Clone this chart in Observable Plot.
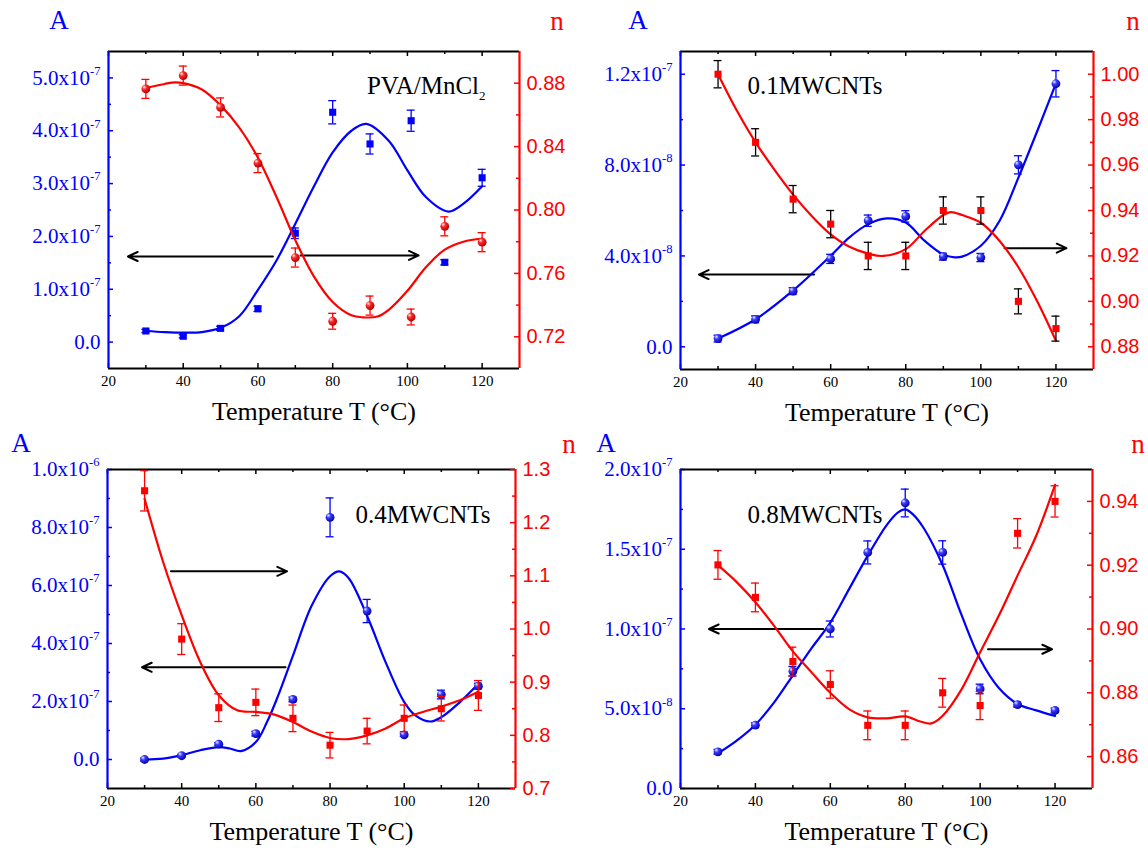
<!DOCTYPE html>
<html><head><meta charset="utf-8">
<script src="https://cdn.jsdelivr.net/npm/d3@7"></script>
<script src="https://cdn.jsdelivr.net/npm/@observablehq/plot@0.6"></script>
<style>
body{margin:0;background:#fff;}
#wrap{position:relative;width:1148px;height:856px;overflow:hidden;background:#fff;}
.panel{position:absolute;width:574px;height:428px;}
.panel svg{position:absolute;left:0;top:0;}
.lbl{position:absolute;font-family:"Liberation Serif","Times New Roman",serif;font-size:27px;line-height:1;transform:translate(-50%,-50%);white-space:nowrap;}
</style></head>
<body>
<svg width="0" height="0" style="position:absolute">
  <defs>
    <radialGradient id="ballBlue" cx="0.38" cy="0.36" r="0.66" fx="0.3" fy="0.28">
      <stop offset="0" stop-color="#eef0ff"/>
      <stop offset="0.38" stop-color="#3a3aff"/>
      <stop offset="1" stop-color="#0000a8"/>
    </radialGradient>
    <radialGradient id="ballRed" cx="0.38" cy="0.36" r="0.66" fx="0.3" fy="0.28">
      <stop offset="0" stop-color="#fff0f0"/>
      <stop offset="0.38" stop-color="#ff2a2a"/>
      <stop offset="1" stop-color="#b00000"/>
    </radialGradient>
  </defs>
</svg>
<div id="wrap"></div>
<script>
// ---------------- DATA ----------------
const xMajor = [20, 40, 60, 80, 100, 120];
const xMinor = [30, 50, 70, 90, 110];

// Panel 1: PVA/MnCl2
const p1T = [30, 40, 50, 60, 70, 80, 90, 101, 110, 120];
const p1A = [0.21e-7, 0.11e-7, 0.26e-7, 0.63e-7, 2.06e-7, 4.35e-7, 3.75e-7, 4.19e-7, 1.51e-7, 3.11e-7];
const p1Aerr = [0.03e-7, 0.03e-7, 0.04e-7, 0.05e-7, 0.10e-7, 0.22e-7, 0.19e-7, 0.20e-7, 0.05e-7, 0.16e-7];
const p1n = [0.8764, 0.8848, 0.8647, 0.8296, 0.7700, 0.7298, 0.7397, 0.7325, 0.7897, 0.7797];
const p1nerr = [0.006, 0.006, 0.006, 0.006, 0.006, 0.005, 0.006, 0.005, 0.006, 0.006];
const p1AfitT = [30, 35, 40, 45, 50, 55, 60, 65, 70, 75, 80, 85, 89, 95, 100, 105, 111, 115, 120];
const p1Afit = [0.21e-7, 0.19e-7, 0.18e-7, 0.19e-7, 0.27e-7, 0.49e-7, 0.99e-7, 1.55e-7, 2.24e-7, 2.95e-7, 3.59e-7, 4.0e-7, 4.13e-7, 3.81e-7, 3.25e-7, 2.74e-7, 2.47e-7, 2.62e-7, 2.95e-7];
const p1nfitT = [30, 35, 37, 40, 45, 50, 55, 60, 65, 70, 75, 80, 85, 88, 92, 95, 100, 105, 110, 115, 120];
const p1nfit = [0.877, 0.8795, 0.8804, 0.880, 0.876, 0.866, 0.852, 0.833, 0.808, 0.781, 0.758, 0.742, 0.7336, 0.7323, 0.7328, 0.737, 0.749, 0.764, 0.775, 0.780, 0.782];
const p1ArrowX1 = [64, 71.4], p1ArrowX2 = [25.2, 103], p1ArrowY = [1.62e-7, 1.64e-7];
const p1ATicks = [0, 1e-7, 2e-7, 3e-7, 4e-7, 5e-7];
const p1ATickLabels = ["0.0", "1.0x10^-7", "2.0x10^-7", "3.0x10^-7", "4.0x10^-7", "5.0x10^-7"];
const p1AMinor = [0.5e-7, 1.5e-7, 2.5e-7, 3.5e-7, 4.5e-7];
const p1nTicks = [0.72, 0.76, 0.80, 0.84, 0.88];
const p1nMinor = [0.74, 0.78, 0.82, 0.86];

// Panel 2: 0.1MWCNTs
const p2T = [30, 40, 50, 60, 70, 80, 90, 100, 110, 120];
const p2A = [0.36e-8, 1.21e-8, 2.45e-8, 3.87e-8, 5.55e-8, 5.74e-8, 3.97e-8, 3.93e-8, 8.01e-8, 11.58e-8];
const p2Aerr = [0.15e-8, 0.15e-8, 0.15e-8, 0.2e-8, 0.25e-8, 0.25e-8, 0.15e-8, 0.18e-8, 0.4e-8, 0.58e-8];
const p2n = [1.000, 0.970, 0.945, 0.934, 0.920, 0.920, 0.940, 0.940, 0.900, 0.888];
const p2nerr = [0.006, 0.006, 0.006, 0.006, 0.006, 0.006, 0.006, 0.006, 0.0055, 0.0055];
const p2AfitT = [30, 40, 50, 60, 65, 70, 75, 80, 85, 90, 93, 95, 100, 105, 110, 115, 120];
const p2Afit = [0.36e-8, 1.21e-8, 2.48e-8, 4.01e-8, 4.82e-8, 5.40e-8, 5.65e-8, 5.47e-8, 4.67e-8, 4.06e-8, 3.94e-8, 3.97e-8, 4.45e-8, 5.55e-8, 7.45e-8, 9.49e-8, 11.6e-8];
const p2nfitT = [30, 35, 40, 45, 50, 55, 60, 65, 70, 74, 80, 85, 90, 92, 95, 100, 105, 110, 115, 120];
const p2nfit = [1.000, 0.984, 0.970, 0.958, 0.947, 0.9375, 0.9295, 0.924, 0.921, 0.920, 0.923, 0.931, 0.938, 0.9393, 0.938, 0.9346, 0.9266, 0.915, 0.900, 0.8826];
const p2ArrowX1 = [55.6, 106.3], p2ArrowX2 = [24.9, 122.8], p2ArrowY = [3.18e-8, 4.34e-8];
const p2ATicks = [0, 4e-8, 8e-8, 1.2e-7];
const p2ATickLabels = ["0.0", "4.0x10^-8", "8.0x10^-8", "1.2x10^-7"];
const p2AMinor = [2e-8, 6e-8, 1e-7];
const p2nTicks = [0.88, 0.90, 0.92, 0.94, 0.96, 0.98, 1.00];
const p2nMinor = [0.89, 0.91, 0.93, 0.95, 0.97, 0.99];

// Panel 3: 0.4MWCNTs
const p3T = [30, 40, 50, 60, 70, 80, 90, 100, 110, 120];
const p3A = [0.0, 0.13e-7, 0.53e-7, 0.89e-7, 2.07e-7, 8.35e-7, 5.12e-7, 0.85e-7, 2.24e-7, 2.53e-7];
const p3Aerr = [0.05e-7, 0.05e-7, 0.05e-7, 0.08e-7, 0.08e-7, 0.67e-7, 0.40e-7, 0.05e-7, 0.15e-7, 0.10e-7];
const p3n = [1.260, 0.981, 0.852, 0.862, 0.832, 0.7815, 0.808, 0.832, 0.850, 0.875];
const p3nerr = [0.038, 0.029, 0.026, 0.025, 0.025, 0.024, 0.024, 0.025, 0.023, 0.028];
const p3AfitT = [30, 35, 40, 45, 50, 53, 56, 60, 63, 66, 70, 75, 80, 82.5, 85, 90, 95, 100, 103, 107, 110, 115, 120];
const p3Afit = [0.0, 0.03e-7, 0.15e-7, 0.32e-7, 0.43e-7, 0.38e-7, 0.29e-7, 0.6e-7, 1.29e-7, 2.2e-7, 3.58e-7, 5.29e-7, 6.32e-7, 6.49e-7, 6.26e-7, 4.95e-7, 3.35e-7, 1.98e-7, 1.52e-7, 1.31e-7, 1.46e-7, 1.98e-7, 2.61e-7];
const p3nfitT = [30, 35, 40, 45, 50, 55, 60, 65, 70, 75, 80, 85, 90, 95, 100, 105, 110, 115, 120];
const p3nfit = [1.245, 1.126, 1.026, 0.938, 0.8755, 0.847, 0.844, 0.839, 0.825, 0.807, 0.795, 0.793, 0.800, 0.813, 0.832, 0.844, 0.854, 0.866, 0.882];
const p3ArrowX1 = [37.1, 68], p3ArrowX2 = [68.4, 29.3], p3ArrowY = [6.49e-7, 3.18e-7];
const p3ATicks = [0, 2e-7, 4e-7, 6e-7, 8e-7, 1e-6];
const p3ATickLabels = ["0.0", "2.0x10^-7", "4.0x10^-7", "6.0x10^-7", "8.0x10^-7", "1.0x10^-6"];
const p3AMinor = [1e-7, 3e-7, 5e-7, 7e-7, 9e-7];
const p3nTicks = [0.7, 0.8, 0.9, 1.0, 1.1, 1.2, 1.3];
const p3nMinor = [0.75, 0.85, 0.95, 1.05, 1.15, 1.25];

// Panel 4: 0.8MWCNTs
const p4T = [30, 40, 50, 60, 70, 80, 90, 100, 110, 120];
const p4A = [0.23e-7, 0.397e-7, 0.735e-7, 1.0e-7, 1.48e-7, 1.79e-7, 1.48e-7, 0.624e-7, 0.526e-7, 0.489e-7];
const p4Aerr = [0.015e-7, 0.015e-7, 0.03e-7, 0.05e-7, 0.072e-7, 0.087e-7, 0.073e-7, 0.03e-7, 0.015e-7, 0.015e-7];
const p4n = [0.9201, 0.9099, 0.8898, 0.8826, 0.8698, 0.8698, 0.880, 0.876, 0.930, 0.940];
const p4nerr = [0.0045, 0.0045, 0.0045, 0.0043, 0.0045, 0.0045, 0.0045, 0.0044, 0.0046, 0.0049];
const p4AfitT = [30, 35, 40, 45, 50, 55, 60, 65, 70, 75, 78, 80, 82, 85, 90, 95, 100, 105, 110, 115, 120];
const p4Afit = [0.22e-7, 0.30e-7, 0.40e-7, 0.54e-7, 0.71e-7, 0.88e-7, 1.04e-7, 1.25e-7, 1.46e-7, 1.65e-7, 1.73e-7, 1.75e-7, 1.72e-7, 1.63e-7, 1.40e-7, 1.09e-7, 0.81e-7, 0.63e-7, 0.53e-7, 0.49e-7, 0.455e-7];
const p4nfitT = [30, 35, 40, 45, 50, 55, 60, 65, 70, 75, 80, 84, 87, 90, 95, 100, 105, 110, 115, 120];
const p4nfit = [0.920, 0.9147, 0.9084, 0.901, 0.893, 0.8864, 0.880, 0.8749, 0.8723, 0.872, 0.8726, 0.871, 0.8704, 0.8728, 0.881, 0.8927, 0.9042, 0.9168, 0.9293, 0.9452];
const p4ArrowX1 = [58.1, 102.1], p4ArrowX2 = [27.6, 119.2], p4ArrowY = [1.0e-7, 0.873e-7];
const p4ATicks = [0, 5e-8, 1e-7, 1.5e-7, 2e-7];
const p4ATickLabels = ["0.0", "5.0x10^-8", "1.0x10^-7", "1.5x10^-7", "2.0x10^-7"];
const p4AMinor = [2.5e-8, 7.5e-8, 1.25e-7, 1.75e-7];
const p4nTicks = [0.86, 0.88, 0.90, 0.92, 0.94];
const p4nMinor = [0.87, 0.89, 0.91, 0.93];

const xTitle = "Temperature T (°C)";

// ---------------- RENDER ----------------
const BLUE = "#0000ff", RED = "#ff0000";
const SERIF = '"Liberation Serif","Times New Roman",serif';
const SANS = '"Liberation Sans",Arial,sans-serif';

const zip = (T, v, e) => T.map((t, i) => ({t, v: v[i], e: e ? e[i] : 0}));
const arrows = (x1, x2, y) => x1.map((d, i) => ({x1: d, x2: x2[i], y: y[i]}));

const panels = [
  {left: 0, top: 0, mL: 108, mR: 55, mT: 51, mB: 60,
   aDomain: [-0.5e-7, 5.5e-7], aTicks: p1ATicks, aLabels: p1ATickLabels, aMinor: p1AMinor,
   nDomain: [0.70, 0.90], nTicks: p1nTicks, nMinor: p1nMinor, nDigits: 2,
   T: p1T, A: p1A, Ae: p1Aerr, n: p1n, ne: p1nerr,
   AfitT: p1AfitT, Afit: p1Afit, nfitT: p1nfitT, nfit: p1nfit,
   arrows: arrows(p1ArrowX1, p1ArrowX2, p1ArrowY),
   aShape: "square", nShape: "ball", aErr: BLUE, nErr: RED,
   label: "PVA/MnCl_2", labelAnchor: "top-right", labelDx: -34, labelDy: 25, labelAlign: "end",
   Apos: [59, 20], npos: [557, 21]},
  {left: 574, top: 0, mL: 106, mR: 55, mT: 51, mB: 59,
   aDomain: [-1e-8, 1.3e-7], aTicks: p2ATicks, aLabels: p2ATickLabels, aMinor: p2AMinor,
   nDomain: [0.87, 1.01], nTicks: p2nTicks, nMinor: p2nMinor, nDigits: 2,
   T: p2T, A: p2A, Ae: p2Aerr, n: p2n, ne: p2nerr,
   AfitT: p2AfitT, Afit: p2Afit, nfitT: p2nfitT, nfit: p2nfit,
   arrows: arrows(p2ArrowX1, p2ArrowX2, p2ArrowY),
   aShape: "ball", nShape: "square", aErr: BLUE, nErr: "black",
   label: "0.1MWCNTs", labelAnchor: "top-left", labelDx: 67, labelDy: 25, labelAlign: "start",
   Apos: [64, 20], npos: [559, 21]},
  {left: 0, top: 428, mL: 107, mR: 59, mT: 41, mB: 68,
   aDomain: [-1e-7, 1e-6], aTicks: p3ATicks, aLabels: p3ATickLabels, aMinor: p3AMinor,
   nDomain: [0.7, 1.3], nTicks: p3nTicks, nMinor: p3nMinor, nDigits: 1,
   T: p3T, A: p3A, Ae: p3Aerr, n: p3n, ne: p3nerr,
   AfitT: p3AfitT, Afit: p3Afit, nfitT: p3nfitT, nfit: p3nfit,
   arrows: arrows(p3ArrowX1, p3ArrowX2, p3ArrowY),
   aShape: "ball", nShape: "square", aErr: BLUE, nErr: RED,
   label: "0.4MWCNTs", labelAnchor: "top-left", labelDx: 248, labelDy: 36, labelAlign: "start",
   Apos: [21, 15], npos: [569, 16]},
  {left: 574, top: 428, mL: 106, mR: 56, mT: 41, mB: 68,
   aDomain: [0, 2e-7], aTicks: p4ATicks, aLabels: p4ATickLabels, aMinor: p4AMinor,
   nDomain: [0.85, 0.95], nTicks: p4nTicks, nMinor: p4nMinor, nDigits: 2,
   T: p4T, A: p4A, Ae: p4Aerr, n: p4n, ne: p4nerr,
   AfitT: p4AfitT, Afit: p4Afit, nfitT: p4nfitT, nfit: p4nfit,
   arrows: arrows(p4ArrowX1, p4ArrowX2, p4ArrowY),
   aShape: "ball", nShape: "square", aErr: BLUE, nErr: RED,
   label: "0.8MWCNTs", labelAnchor: "top-left", labelDx: 67, labelDy: 36, labelAlign: "start",
   Apos: [32, 15], npos: [564, 16]}
];

function setFont(svg, ariaLabel, size, family) {
  d3.select(svg).selectAll(`g[aria-label="${ariaLabel}"]`)
    .attr("font-size", size).attr("font-family", family)
    .selectAll("text").attr("font-size", size).attr("font-family", family);
}

function richText(svg) {
  d3.select(svg).selectAll("text").each(function () {
    const s = this.textContent;
    const m = s.match(/^(.*?)([\^_])(.+)$/);
    if (!m) return;
    const fs = parseFloat(this.getAttribute("font-size")) || parseFloat(getComputedStyle(this).fontSize) || 18;
    while (this.firstChild) this.removeChild(this.firstChild);
    const sel = d3.select(this);
    sel.append("tspan").text(m[1]);
    sel.append("tspan")
      .attr("dy", m[2] === "^" ? -0.47 * fs : 0.3 * fs)
      .attr("font-size", (m[2] === "^" ? 0.6 : 0.72) * fs)
      .text(m[3]);
  });
}

function seriesMarks(data, fitT, fit, shape, color, errColor) {
  const fitData = zip(fitT, fit);
  const marks = [
    Plot.line(fitData, {x: "t", y: "v", curve: "catmull-rom", stroke: color, strokeWidth: 2.2}),
    Plot.ruleX(data, {x: "t", y1: d => d.v - d.e, y2: d => d.v + d.e, stroke: errColor, strokeWidth: 1.3}),
    Plot.ruleY(data, {x1: "t", x2: "t", y: d => d.v - d.e, insetLeft: -4, insetRight: -4, stroke: errColor, strokeWidth: 1.3}),
    Plot.ruleY(data, {x1: "t", x2: "t", y: d => d.v + d.e, insetLeft: -4, insetRight: -4, stroke: errColor, strokeWidth: 1.3})
  ];
  if (shape === "square") {
    marks.push(Plot.dot(data, {x: "t", y: "v", symbol: "square", r: 4, fill: color, stroke: "none"}));
  } else {
    marks.push(Plot.dot(data, {x: "t", y: "v", r: 4.4, fill: color === BLUE ? "url(#ballBlue)" : "url(#ballRed)", stroke: "none"}));
  }
  return marks;
}

const wrap = document.getElementById("wrap");
for (const p of panels) {
  const W = 574, H = 428;
  const pw = W - p.mL - p.mR, ph = H - p.mT - p.mB;
  const aData = zip(p.T, p.A, p.Ae);
  const nData = zip(p.T, p.n, p.ne);
  const aLabel = new Map(p.aTicks.map((d, i) => [d, p.aLabels[i]]));

  const left = Plot.plot({
    width: W, height: H, marginLeft: p.mL, marginRight: p.mR, marginTop: p.mT, marginBottom: p.mB,
    style: {fontFamily: SERIF, background: "transparent", overflow: "visible"},
    x: {domain: [20, 130], axis: null, label: null},
    y: {domain: p.aDomain, axis: null, label: null},
    marks: [
      // x axis ticks (inward) and labels
      Plot.tickX(xMajor, {x: d => d, insetTop: ph - 5, stroke: "black", strokeWidth: 1.5}),
      Plot.tickX(xMinor, {x: d => d, insetTop: ph - 3, stroke: "black", strokeWidth: 1.5}),
      Plot.tickX(xMajor, {x: d => d, insetBottom: ph - 5, stroke: "black", strokeWidth: 1.5}),
      Plot.tickX(xMinor, {x: d => d, insetBottom: ph - 3, stroke: "black", strokeWidth: 1.5}),
      Plot.axisX({ticks: xMajor, label: null, tickSize: 0, tickPadding: 7, fontSize: 15, fontFamily: SERIF, fill: "black", tickFormat: d => String(d)}),
      Plot.text([xTitle], {frameAnchor: "bottom", dy: 51, fontSize: 26, fontFamily: SERIF, fill: "black"}),
      // left axis
      Plot.tickY(p.aTicks, {y: d => d, insetRight: pw - 5, stroke: BLUE, strokeWidth: 1.5}),
      Plot.tickY(p.aMinor, {y: d => d, insetRight: pw - 3, stroke: BLUE, strokeWidth: 1.5}),
      Plot.axisY({ticks: p.aTicks, label: null, tickSize: 0, tickPadding: 8, fontSize: 21, fontFamily: SERIF, fill: BLUE, tickFormat: d => aLabel.get(d)}),
      // frame
      Plot.ruleY([p.aDomain[1]], {stroke: "black", strokeWidth: 2}),
      Plot.ruleY([p.aDomain[0]], {stroke: "black", strokeWidth: 2}),
      Plot.ruleX([20], {stroke: BLUE, strokeWidth: 2.2}),
      // annotations
      Plot.text([p.label], {frameAnchor: p.labelAnchor, dx: p.labelDx, dy: p.labelDy, textAnchor: p.labelAlign, fontSize: 25, fontFamily: SERIF, fill: "black"}),
      Plot.arrow(p.arrows, {x1: "x1", y1: "y", x2: "x2", y2: "y", stroke: "black", strokeWidth: 2, headLength: 8, headAngle: 50}),
      // A series
      ...seriesMarks(aData, p.AfitT, p.Afit, p.aShape, BLUE, p.aErr)
    ]
  });

  const right = Plot.plot({
    width: W, height: H, marginLeft: p.mL, marginRight: p.mR, marginTop: p.mT, marginBottom: p.mB,
    style: {fontFamily: SANS, background: "transparent", overflow: "visible"},
    x: {domain: [20, 130], axis: null, label: null},
    y: {domain: p.nDomain, axis: null, label: null},
    marks: [
      Plot.tickY(p.nTicks, {y: d => d, insetLeft: pw - 5, stroke: RED, strokeWidth: 1.5}),
      Plot.tickY(p.nMinor, {y: d => d, insetLeft: pw - 3, stroke: RED, strokeWidth: 1.5}),
      Plot.axisY({ticks: p.nTicks, anchor: "right", label: null, tickSize: 0, tickPadding: 7, fontSize: 20, fontFamily: SANS, fill: RED, tickFormat: d => d.toFixed(p.nDigits)}),
      Plot.ruleX([130], {stroke: RED, strokeWidth: 2.2}),
      ...seriesMarks(nData, p.nfitT, p.nfit, p.nShape, RED, p.nErr)
    ]
  });

  const div = document.createElement("div");
  div.className = "panel";
  div.style.left = p.left + "px";
  div.style.top = p.top + "px";
  div.appendChild(left);
  div.appendChild(right);
  setFont(left, "y-axis tick label", 21, SERIF);
  setFont(left, "x-axis tick label", 15, SERIF);
  setFont(right, "y-axis tick label", 20, SANS);
  for (const svg of [left, right]) {
    svg.style.background = "transparent";
    svg.style.overflow = "visible";
    richText(svg);
  }
  const aL = document.createElement("div");
  aL.className = "lbl"; aL.textContent = "A"; aL.style.color = BLUE;
  aL.style.left = p.Apos[0] + "px"; aL.style.top = p.Apos[1] + "px";
  const nL = document.createElement("div");
  nL.className = "lbl"; nL.textContent = "n"; nL.style.color = RED;
  nL.style.left = p.npos[0] + "px"; nL.style.top = p.npos[1] + "px";
  div.appendChild(aL); div.appendChild(nL);
  wrap.appendChild(div);
}
</script>
</body></html>
